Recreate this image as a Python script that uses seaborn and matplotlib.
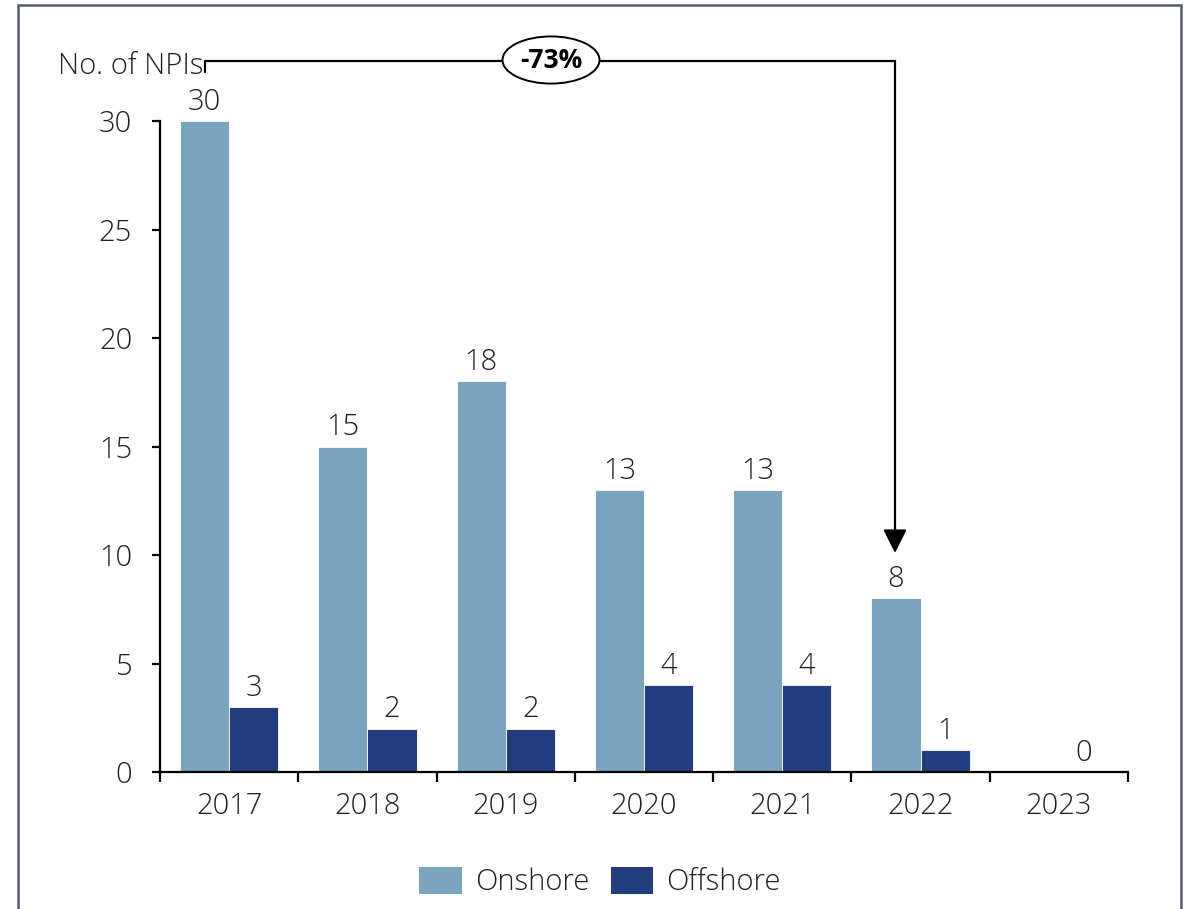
import matplotlib
matplotlib.use("Agg")
import matplotlib.pyplot as plt
import seaborn as sns
import pandas as pd
import numpy as np
from matplotlib.patches import Rectangle, Patch

years = ["2017", "2018", "2019", "2020", "2021", "2022", "2023"]
onshore = [30, 15, 18, 13, 13, 8, 0]
offshore = [3, 2, 2, 4, 4, 1, 0]
onshore_labels = ["30", "15", "18", "13", "13", "8", ""]
offshore_labels = ["3", "2", "2", "4", "4", "1", "0"]
series = ["Onshore", "Offshore"]
colors = ["#7ba5be", "#213d7e"]
y_ticks = [0, 5, 10, 15, 20, 25, 30]
change_label = "-73%"
y_title = "No. of NPIs"

df = pd.DataFrame({
    "Year": years * 2,
    "Series": [series[0]] * len(years) + [series[1]] * len(years),
    "Value": onshore + offshore,
})

sns.set_theme(style="white")
plt.rcParams["font.family"] = ["Open Sans", "DejaVu Sans"]
FS = 21
TXT = "#222222"

W, H = 1188, 909
fig = plt.figure(figsize=(W / 100, H / 100), dpi=100)
ax = fig.add_axes([160 / W, 1 - 772 / H, (1128 - 160) / W, (772 - 121) / H])

sns.barplot(data=df, x="Year", y="Value", hue="Series", order=years,
            hue_order=series, palette=colors, saturation=1, width=0.71, gap=0,
            edgecolor="white", linewidth=0.6, legend=False, ax=ax)

for cont, labs in zip(ax.containers, [onshore_labels, offshore_labels]):
    ax.bar_label(cont, labels=labs, padding=3, fontsize=FS, color=TXT,
                 fontweight="light")

ax.set_xlim(-0.5, len(years) - 0.5)
ax.set_ylim(0, 30)
ax.set_yticks(y_ticks)
ax.set_xlabel("")
ax.set_ylabel("")
sns.despine(ax=ax)
for s in ["left", "bottom"]:
    ax.spines[s].set_color("black")
    ax.spines[s].set_linewidth(1.6)
ax.tick_params(axis="y", length=6, width=1.6, color="black", pad=14,
               labelsize=FS, labelcolor=TXT, left=True)
ax.tick_params(axis="x", which="major", length=0, pad=14,
               labelsize=FS, labelcolor=TXT)
ax.set_xticks(np.arange(-0.5, len(years) + 0.5, 1), minor=True)
ax.tick_params(axis="x", which="minor", length=7, width=1.6, color="black",
               bottom=True)
for lab in ax.get_xticklabels() + ax.get_yticklabels():
    lab.set_fontweight("light")

# y title
fig.text(58 / W, 1 - 66 / H, y_title, fontsize=FS, color=TXT,
         fontweight="light", ha="left", va="center")

# bracket annotation
xfig = lambda px: px / W
yfig = lambda py: 1 - py / H
xa = xfig(205)
xb = xfig(895)
ytop = yfig(61)
fig.lines.append(plt.Line2D([xa, xa, xb], [yfig(72), ytop, ytop],
                            transform=fig.transFigure, color="black", lw=1.6))
fig.patches.append(matplotlib.patches.FancyArrowPatch(
    (xb, ytop), (xb, yfig(553)), transform=fig.transFigure,
    arrowstyle="-|>,head_length=0.9,head_width=0.45", mutation_scale=16,
    color="black", lw=1.6, shrinkA=0, shrinkB=0))
fig.text(xfig(551), yfig(60), change_label, fontsize=19, fontweight="bold",
         color="black", ha="center", va="center",
         bbox=dict(boxstyle="ellipse,pad=0.12", fc="white", ec="black", lw=1.4))

# legend
handles = [Patch(facecolor=c, edgecolor="none") for c in colors]
fig.legend(handles, series, loc="center", bbox_to_anchor=(600 / W, 1 - 882 / H),
           ncol=2, frameon=False, handlelength=1.45,
           handleheight=1.05, handletextpad=0.45, columnspacing=0.75,
           labelcolor=TXT, prop={"weight": "light", "size": FS})

# outer frame
fig.patches.append(Rectangle((18 / W, -0.05), (1181 - 18) / W, 1.05 - 5 / H,
                             transform=fig.transFigure, fill=False,
                             edgecolor="#565b6e", lw=1.8))

fig.savefig("out.png", dpi=100)
